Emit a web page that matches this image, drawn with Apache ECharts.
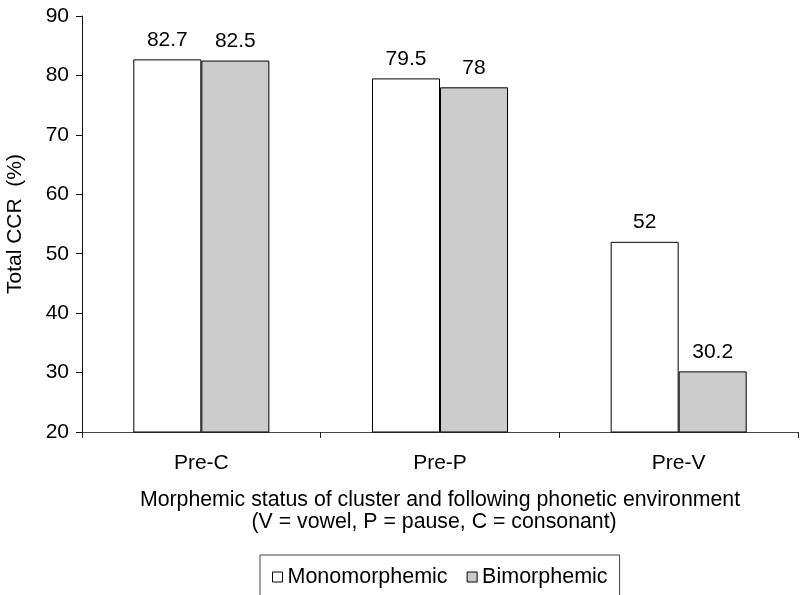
<!DOCTYPE html>
<html>
<head>
<meta charset="utf-8">
<script src="https://cdn.jsdelivr.net/npm/echarts@6/dist/echarts.min.js"></script>
<style>
  html, body { margin: 0; padding: 0; background: #fff; }
  #chart { width: 801px; height: 595px; }
</style>
</head>
<body>
<div id="chart"></div>
<script>
// Total CCR (%) by morphemic status and following phonetic environment
const categories = ['Pre-C', 'Pre-P', 'Pre-V'];
const monomorphemic = [82.7, 79.5, 52];
const bimorphemic = [82.5, 78, 30.2];
const yTicks = { min: 20, max: 90, interval: 10 };

const FONT = '"Liberation Sans", Arial, Helvetica, sans-serif';
const FS = 21;

const chart = echarts.init(document.getElementById('chart'), null, { renderer: 'canvas' });

const valueLabel = {
  show: true,
  position: 'top',
  distance: 9,
  color: '#000',
  fontFamily: FONT,
  fontSize: FS
};

chart.setOption({
  animation: false,
  backgroundColor: '#fff',
  textStyle: { fontFamily: FONT, color: '#000' },
  grid: { left: 82, right: 3, top: 16, bottom: 163, containLabel: false, outerBoundsMode: 'none' },
  legend: {
    left: 260,
    top: 555,
    orient: 'horizontal',
    padding: [11, 12, 11, 12],
    itemGap: 19,
    itemWidth: 10,
    itemHeight: 10,
    borderColor: '#444',
    borderWidth: 1,
    textStyle: { fontFamily: FONT, fontSize: 21.5, color: '#000' },
    data: [
      { name: 'Monomorphemic', icon: 'rect', itemStyle: { color: '#fff', borderColor: '#000', borderWidth: 1 } },
      { name: 'Bimorphemic', icon: 'rect', itemStyle: { color: '#ccc', borderColor: '#000', borderWidth: 1 } }
    ]
  },
  xAxis: {
    type: 'category',
    data: categories,
    name: 'Morphemic status of cluster and following phonetic environment\n(V = vowel, P = pause, C = consonant)  ',
    nameLocation: 'middle',
    nameGap: 57,
    nameTextStyle: { fontFamily: FONT, fontSize: 21.3, color: '#000', lineHeight: 22 },
    axisLine: { lineStyle: { color: '#444', width: 1 } },
    axisTick: { show: true, length: 6, lineStyle: { color: '#222' } },
    axisLabel: { margin: 21, fontFamily: FONT, fontSize: FS, color: '#000' }
  },
  yAxis: {
    type: 'value',
    min: yTicks.min,
    max: yTicks.max,
    interval: yTicks.interval,
    name: 'Total CCR  (%)',
    nameLocation: 'middle',
    nameGap: 56,
    nameTextStyle: { fontFamily: FONT, fontSize: FS, color: '#000' },
    axisLine: { show: true, lineStyle: { color: '#111', width: 1 } },
    axisTick: { show: true, length: 6, lineStyle: { color: '#111' } },
    axisLabel: { margin: 13, fontFamily: FONT, fontSize: FS, color: '#000' },
    splitLine: { show: false }
  },
  series: [
    {
      name: 'Monomorphemic',
      type: 'bar',
      data: monomorphemic,
      barGap: '0%',
      barCategoryGap: '43%',
      itemStyle: { color: '#fff', borderColor: '#000', borderWidth: 1 },
      label: valueLabel
    },
    {
      name: 'Bimorphemic',
      type: 'bar',
      data: bimorphemic,
      itemStyle: { color: '#ccc', borderColor: '#000', borderWidth: 1 },
      label: valueLabel
    }
  ]
});
</script>
</body>
</html>
